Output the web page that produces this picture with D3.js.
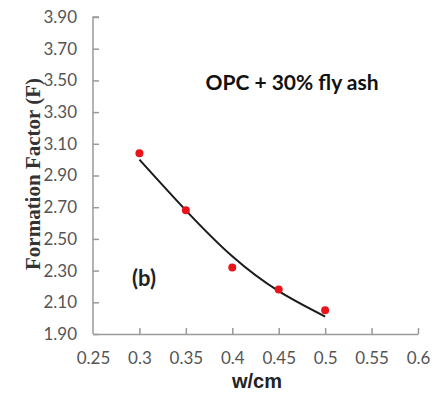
<!DOCTYPE html>
<html>
<head>
<meta charset="utf-8">
<script src="https://cdn.jsdelivr.net/npm/d3@7"></script>
<style>
  body { margin: 0; background: #fff; }
  svg { display: block; }
</style>
</head>
<body>
<svg id="chart" width="448" height="406"></svg>
<script>
// values
const wcm = [0.3, 0.35, 0.4, 0.45, 0.5];
const formationFactor = [3.04, 2.68, 2.32, 2.18, 2.05];
// fitted trend line
const trendX = [0.3, 0.35, 0.4, 0.45, 0.5];
const trendY = [3.0, 2.68, 2.39, 2.17, 2.01];
const xTicks = [0.25, 0.3, 0.35, 0.4, 0.45, 0.5, 0.55, 0.6];
const yTicks = [1.9, 2.1, 2.3, 2.5, 2.7, 2.9, 3.1, 3.3, 3.5, 3.7, 3.9];

const svg = d3.select("#chart");
const axisColor = "#9a9a9a";
const labelColor = "#555";

const x = d3.scaleLinear().domain([0.25, 0.6]).range([93, 418]);
const y = d3.scaleLinear().domain([1.9, 3.9]).range([334, 17]);

// y axis, ticks pointing inwards
const yAxis = svg.append("g")
  .attr("transform", "translate(" + x(0.25) + ",0)")
  .call(d3.axisLeft(y).tickValues(yTicks).tickSizeInner(-6).tickSizeOuter(-6).tickPadding(16)
    .tickFormat(d3.format(".2f")));

const xAxis = svg.append("g")
  .attr("transform", "translate(0," + y(1.9) + ")")
  .call(d3.axisBottom(x).tickValues(xTicks).tickSizeInner(-6).tickSizeOuter(0).tickPadding(18)
    .tickFormat(d => d3.format("")(+d.toFixed(2))));

[xAxis, yAxis].forEach(g => {
  g.selectAll("path, line").attr("stroke", axisColor).attr("stroke-width", 1.5);
  g.selectAll("text")
    .attr("fill", labelColor)
    .style("font-family", "Lato, 'Open Sans', sans-serif")
    .style("font-size", "17px");
});
xAxis.select(".tick line").remove(); // no tick at the corner
yAxis.select(".domain").attr("d", "M6," + y(3.9) + "H0V" + y(1.9));

// trend line
const line = d3.line()
  .x(d => x(d[0]))
  .y(d => y(d[1]))
  .curve(d3.curveNatural);

svg.append("path")
  .datum(d3.zip(trendX, trendY))
  .attr("d", line)
  .attr("fill", "none")
  .attr("stroke", "#1a1a1a")
  .attr("stroke-width", 2);

// points
svg.append("g")
  .selectAll("circle")
  .data(d3.zip(wcm, formationFactor))
  .enter()
  .append("circle")
  .attr("cx", d => x(d[0]))
  .attr("cy", d => y(d[1]))
  .attr("r", 4)
  .attr("fill", "#e8141c");

// titles
svg.append("text")
  .attr("transform", "translate(40,174) rotate(-90)")
  .attr("text-anchor", "middle")
  .style("font-family", "'Liberation Serif', 'Times New Roman', serif")
  .style("font-weight", "bold")
  .style("font-size", "21px")
  .attr("fill", "#333")
  .text("Formation Factor (F)");

svg.append("text")
  .attr("x", 257)
  .attr("y", 388)
  .attr("text-anchor", "middle")
  .style("font-family", "'Liberation Sans', Arial, sans-serif")
  .style("font-weight", "bold")
  .style("font-size", "20px")
  .attr("fill", "#222")
  .text("w/cm");

svg.append("text")
  .attr("x", 292)
  .attr("y", 90)
  .attr("text-anchor", "middle")
  .style("font-family", "Lato, 'Open Sans', sans-serif")
  .style("font-weight", "bold")
  .style("font-size", "21px")
  .attr("fill", "#111")
  .text("OPC + 30% fly ash");

svg.append("text")
  .attr("x", 132)
  .attr("y", 286)
  .style("font-family", "Lato, 'Open Sans', sans-serif")
  .style("font-weight", "bold")
  .style("font-size", "22px")
  .attr("fill", "#222")
  .text("(b)");
</script>
</body>
</html>
